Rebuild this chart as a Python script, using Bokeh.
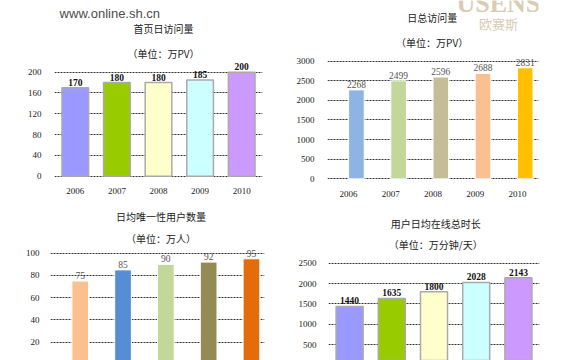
from bokeh.plotting import figure
from bokeh.models import Range1d, FixedTicker, ColumnDataSource
from bokeh.layouts import column, row
from bokeh.embed import file_html
from bokeh.resources import INLINE
from bokeh.core.properties import value

# ---- data ----
years = ["2006", "2007", "2008", "2009", "2010"]
home_daily = [170, 180, 180, 185, 200]          # 首页日访问量 (万PV)
total_daily = [2268, 2499, 2596, 2688, 2831]    # 日总访问量 (万PV)
unique_users = [75, 85, 90, 92, 95]             # 日均唯一性用户数量 (万人)
online_time = [1440, 1635, 1800, 2028, 2143]    # 用户日均在线总时长 (万分钟/天)

ticks_home = [0, 40, 80, 120, 160, 200]
ticks_total = [0, 500, 1000, 1500, 2000, 2500, 3000]
ticks_users = [0, 20, 40, 60, 80, 100]
ticks_time = [0, 500, 1000, 1500, 2000, 2500]

titles = ["首页日访问量", "日总访问量", "日均唯一性用户数量", "用户日均在线总时长"]
subtitles = ["（单位：万PV）", "（单位：万PV）", "（单位：万人）", "（单位：万分钟/天）"]
logo_text = "www.online.sh.cn"
mark_en = "USENS"
mark_cn = "欧赛斯"

colors_a = ["#9999ff", "#99cc00", "#ffffcc", "#ccffff", "#cc99ff"]
colors_b = ["#8db4e2", "#c4d79b", "#c4bd97", "#fac090", "#ffc000"]
colors_c = ["#fac090", "#558ed5", "#c4d79b", "#948a54", "#e46c0a"]

SERIF = "Liberation Serif"
CJK = "Noto Sans CJK SC"


def make_chart(vals, colors, ticks, title, subtitle, w, h, borders, yr,
               bar_w, bar_off, bar_line, lab_bold, lab_color, title_pos,
               y_standoff=7, show_x=True):
    idx = list(range(len(years)))
    p = figure(width=w, height=h, title=None, toolbar_location=None,
               output_backend="svg",
               x_range=Range1d(-0.5, len(years) - 0.5), y_range=Range1d(*yr))
    p.min_border_left, p.min_border_right, p.min_border_top, p.min_border_bottom = borders
    p.outline_line_color = None
    p.background_fill_color = "white"
    p.border_fill_color = "white"
    src = ColumnDataSource(dict(x=[i + bar_off for i in idx], top=vals,
                                color=colors, lab=[str(v) for v in vals]))
    p.vbar(x="x", top="top", bottom=0, width=bar_w, fill_color="color",
           line_color=bar_line[0], line_width=bar_line[1], source=src)
    p.text(x="x", y="top", text="lab", source=src, text_align="center",
           text_baseline="bottom", y_offset=-2,
           text_font=value(SERIF), text_font_size="9.5px",
           text_font_style="bold" if lab_bold else "normal",
           text_color=lab_color)
    tx, ty, sy = title_pos
    p.text(x=[tx], y=[ty], text=[title], text_align="center",
           text_baseline="middle", text_font=value(CJK),
           text_font_size="10px", text_color="#222222")
    p.text(x=[tx], y=[sy], text=[subtitle], text_align="center",
           text_baseline="middle", text_font=value(CJK),
           text_font_size="10px", text_color="#222222")

    p.yaxis.ticker = FixedTicker(ticks=ticks)
    p.yaxis.axis_line_color = None
    p.yaxis.major_tick_line_color = None
    p.yaxis.minor_tick_line_color = None
    p.yaxis.major_label_standoff = y_standoff
    p.yaxis.major_label_text_font = SERIF
    p.yaxis.major_label_text_font_size = "9px"
    p.yaxis.major_label_text_color = "#222222"
    p.ygrid.grid_line_color = "#333333"
    p.ygrid.grid_line_dash = "2 1"
    p.ygrid.grid_line_width = 1
    p.xgrid.visible = False

    p.xaxis.ticker = FixedTicker(ticks=idx)
    p.xaxis.major_label_overrides = {i: y for i, y in zip(idx, years)}
    p.xaxis.axis_line_color = None
    p.xaxis.major_tick_line_color = None
    p.xaxis.minor_tick_line_color = None
    p.xaxis.major_label_standoff = 3
    p.xaxis.major_label_text_font = SERIF
    p.xaxis.major_label_text_font_size = "9px"
    p.xaxis.major_label_text_color = "#222222"
    p.xaxis.visible = show_x
    return p


# logo strip above the first chart
logo = figure(width=285, height=20, title=None, toolbar_location=None,
              output_backend="svg", x_range=Range1d(0, 285),
              y_range=Range1d(0, 20), min_border=0)
logo.axis.visible = False
logo.grid.visible = False
logo.outline_line_color = None
logo.text(x=[7], y=[7], text=[logo_text], text_baseline="middle",
          text_font=value("Liberation Sans"), text_font_size="13px",
          text_color="#4d4d4d")

f1 = make_chart(home_daily, colors_a, ticks_home, titles[0], subtitles[0],
                285, 180, (54, 23, 0, 22), (-4.4, 299.4),
                0.64, 0.0, ("#aaaaaa", 1.5), True, "#111111",
                (2.12, 284.0, 236.0))

f2 = make_chart(total_daily, colors_b, ticks_total, titles[1], subtitles[1],
                285, 200, (42, 32, 0, 19), (-69.0, 4548.0),
                0.37, 0.185, ("#ffffff", 1), False, "#555555",
                (1.98, 4115.0, 3477.0))
f2.text(x=[3.55], y=[3962.0], text=[mark_cn], text_align="center",
        text_baseline="middle", text_font=value(CJK), text_font_size="13px",
        text_color="#d8ccb4")
f2.text(x=[3.55], y=[4480.0], text=[mark_en], text_align="center",
        text_baseline="alphabetic", text_font=value(SERIF), text_font_size="26px",
        text_font_style="bold", text_color="#d8ccb4")

f3 = make_chart(unique_users, colors_c, ticks_users, titles[2], subtitles[2],
                285, 160, (50, 21, 0, 0), (3.55, 147.4),
                0.39, 0.195, ("#ffffff", 1), False, "#555555",
                (2.08, 133.0, 113.2), y_standoff=5, show_x=False)

f4 = make_chart(online_time, colors_a, ticks_time, titles[3], subtitles[3],
                285, 160, (43, 31, 0, 0), (115.0, 4037.0),
                0.64, 0.0, ("#aaaaaa", 1.5), True, "#111111",
                (2.04, 3473.0, 2958.0), y_standoff=6, show_x=False)

layout = column(row(column(logo, f1), f2), row(f3, f4))
open("out.html", "w").write(file_html(layout, INLINE))
